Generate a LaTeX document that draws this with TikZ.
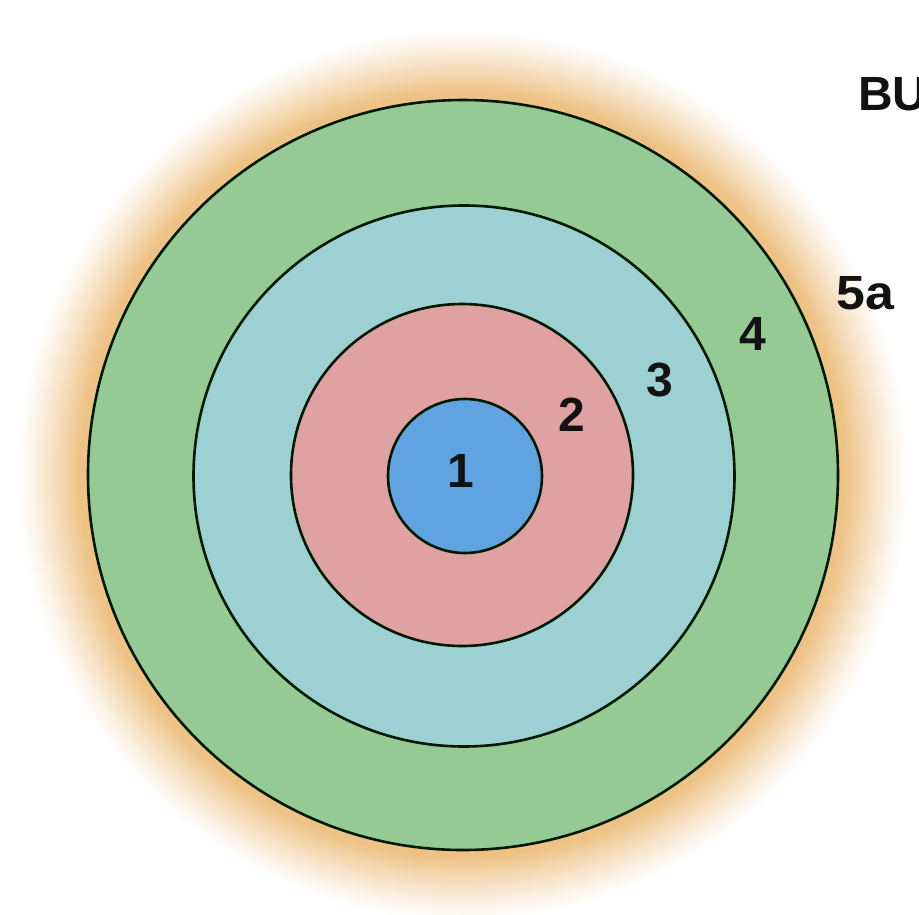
\documentclass[tikz,border=0pt]{standalone}
\usepackage{fontspec}
\setmainfont{Liberation Sans}
\definecolor{halo}{HTML}{EDC284}
\definecolor{ringgreen}{HTML}{95CA95}
\definecolor{ringcyan}{HTML}{9CD0D2}
\definecolor{ringpink}{HTML}{E0A1A3}
\definecolor{ringblue}{HTML}{5FA3E0}
\definecolor{ink}{HTML}{121212}
\begin{document}
\begin{tikzpicture}[x=1pt,y=-1pt,
  ring/.style={circle, draw=black!90!green, line width=2.6pt, inner sep=0pt},
  lbl/.style={font=\fontsize{48}{48}\selectfont\bfseries, text=ink, inner sep=0pt}]
\clip (0,0) rectangle (919,914);
\fill[white] (0,0) rectangle (919,914);
\coordinate (c) at (463,475);
% soft halo around the target
\foreach \i in {0,...,36} {
  \pgfmathsetmacro\rad{447-2*\i}
  \pgfmathsetmacro\t{min(100,115*(\i/36)^1.2)}
  \fill[halo!\t!white] (c) circle (\rad);
}
\node[ring, fill=ringgreen, minimum size=750pt] (r4) at (c) {};
\node[ring, fill=ringcyan, minimum size=541pt] (r3) at (464,476) {};
\node[ring, fill=ringpink, minimum size=342pt] (r2) at (462,475) {};
\node[ring, fill=ringblue, minimum size=154pt] (r1) at (465,476) {};
\node[lbl, anchor=base] (l1) at (461,487) {1};
\node[lbl, anchor=base] (l2) at (572,431) {2};
\node[lbl, anchor=base] (l3) at (660,396) {3};
\node[lbl, anchor=base] (l4) at (753,350) {4};
\node[lbl, anchor=base west, xscale=1.08] (l5) at (836,309) {5a};
\node[lbl, anchor=base west] (bu) at (858,110) {BU};
\end{tikzpicture}
\end{document}
